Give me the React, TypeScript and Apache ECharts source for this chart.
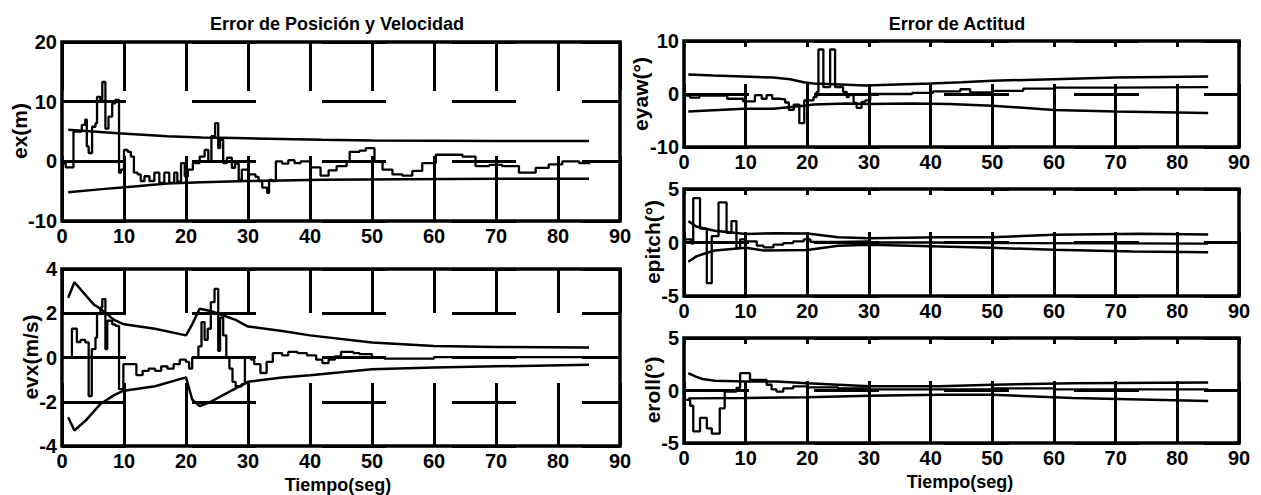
import React, { useEffect, useRef } from "react";
import * as echarts from "echarts";

// ---------- data ----------
const EX_UP_X = [1, 9, 17, 22.5, 28, 42, 50, 60, 70, 85];
const EX_UP_Y = [5.3, 4.7, 4.2, 4.0, 3.9, 3.6, 3.5, 3.45, 3.4, 3.4];
const EX_LO_X = [1, 6, 11.6, 17, 22.5, 30, 42, 55, 70, 85];
const EX_LO_Y = [-5.2, -4.7, -4.2, -3.7, -3.5, -3.3, -3.1, -3.0, -2.9, -2.9];
const EX_SIG_X = [0, 0.6, 1.85, 3.2, 3.75, 4.0, 4.3, 4.85, 5.4, 5.65, 6.2, 6.5, 7.0, 7.5, 8.1, 8.6, 9.2, 9.5, 10.0, 10.6, 11.1, 11.6, 12.2, 12.7, 13.3, 14.1, 14.9, 15.7, 16.5, 17.3, 18.1, 18.6, 19.2, 19.8, 20.3, 21.1, 22.2, 23.0, 23.6, 24.1, 24.7, 25.2, 25.5, 26.0, 26.6, 27.4, 27.9, 28.5, 29.0, 30.1, 31.2, 31.7, 32.3, 33.1, 33.4, 33.9, 34.5, 35.5, 36.5, 37.5, 38.5, 40.1, 41.7, 43.0, 44.3, 45.9, 46.4, 48.0, 49.0, 50.4, 51.7, 53.3, 54.9, 56.5, 58.1, 60.3, 62.4, 64.6, 66.7, 68.9, 71.0, 73.7, 76.4, 78.5, 80.7, 83.4, 85];
const EX_SIG_Y = [-0.3, -1.0, 5.0, 6.1, 7.0, 2.5, 1.4, 5.8, 6.4, 10.8, 10.3, 13.3, 5.5, 7.5, 9.7, 10.3, -1.9, -1.4, 1.9, 1.6, 0.8, -1.9, -2.2, -3.3, -2.5, -3.3, -1.9, -3.6, -1.9, -3.6, -1.9, -3.4, -0.3, -2.5, -1.4, -0.3, 0.8, 1.9, 0, 4.2, 6.4, 2.2, 3.6, -0.3, 0.6, -1.1, -0.4, -3.1, -1.4, -2.2, -2.6, -3.3, -4.4, -5.3, -3.1, -3.3, 0, -0.4, 0.2, -0.3, 0, -1.0, -2.4, -1.5, -0.8, 0, 1.6, 1.8, 2.2, 0, -1.4, -2.2, -2.4, -1.6, -0.3, 1.1, 1.1, 0.8, -0.8, -0.6, -0.8, -1.9, -1.1, -0.5, 0, -0.3, -0.5];

const EVX_UP_X = [1, 2, 5.1, 6.2, 8.4, 10, 15, 20, 21, 22.2, 24, 28, 30, 35.5, 40, 50, 60, 70, 85];
const EVX_UP_Y = [2.7, 3.4, 2.4, 2.2, 1.7, 1.5, 1.3, 1.0, 1.5, 2.2, 2.1, 1.7, 1.4, 1.2, 1.0, 0.68, 0.52, 0.48, 0.45];
const EVX_LO_X = [1, 2, 4, 6.2, 8.4, 10, 15, 20, 21, 22.2, 24, 28, 30, 35.5, 40, 50, 60, 70, 85];
const EVX_LO_Y = [-2.7, -3.3, -2.8, -2.1, -1.7, -1.5, -1.3, -0.9, -1.9, -2.2, -2.0, -1.4, -1.1, -0.9, -0.8, -0.53, -0.45, -0.4, -0.33];
const EVX_SIG_X = [1, 1.6, 2.4, 3.0, 3.75, 4.3, 4.8, 5.4, 5.65, 6.2, 6.5, 7.0, 7.3, 8.1, 8.6, 9.2, 9.9, 11.0, 12.0, 13.0, 14.0, 15.0, 16.0, 17.0, 18.0, 19.0, 20.0, 20.5, 21.0, 22.0, 22.5, 23.0, 23.5, 24.0, 24.6, 25.2, 25.5, 26.0, 26.5, 27.0, 27.5, 28.0, 29.0, 29.5, 30.5, 31.0, 32.0, 33.0, 34.0, 35.5, 36.5, 38.0, 39.5, 41.0, 42.0, 43.0, 44.0, 45.0, 47.0, 48.0, 50.0, 52.0, 60.0, 85];
const EVX_SIG_Y = [0, 1.3, 0.7, 0.8, 0.68, -1.74, 0.38, 0.9, 2.0, 2.26, 2.64, 0.38, 1.66, 1.5, 1.43, -1.43, -0.3, -0.3, -0.8, -0.6, -0.5, -0.6, -0.4, -0.5, -0.3, -0.1, -0.2, -0.5, 0, 0.5, 1.6, 0.8, 1.3, 2.5, 3.1, 0.3, 1.8, 1.0, 0, -0.5, -1.1, -1.3, -1.2, 0, -0.1, -0.3, -0.7, -0.2, 0.2, 0.1, 0.25, 0.2, 0.1, -0.1, -0.25, -0.1, 0.05, 0.25, 0.2, 0.15, 0.0, -0.05, 0.02, 0.02];

const YAW_UP_X = [0.7, 4.8, 9.6, 14.5, 17.2, 19.4, 21, 25.3, 29.6, 34.5, 40, 45, 50, 60, 70, 85];
const YAW_UP_Y = [3.7, 3.5, 3.3, 3.1, 2.8, 2.2, 2.0, 1.8, 1.6, 1.8, 2.0, 2.2, 2.5, 2.8, 3.1, 3.3];
const YAW_LO_X = [0.7, 9.6, 14.5, 19.4, 21, 26.4, 29.6, 37, 43, 50, 60, 70, 85];
const YAW_LO_Y = [-3.3, -2.8, -2.8, -2.2, -2.0, -1.8, -1.9, -1.8, -1.9, -2.2, -3.0, -3.3, -3.6];
const YAW_SIG_X = [0, 1, 2.5, 7, 9.6, 11.5, 12.6, 13.4, 14.3, 15.6, 16.4, 17.0, 17.8, 18.7, 19.5, 21.0, 21.5, 21.8, 22.6, 23.7, 24.5, 25.8, 26.4, 26.7, 27.5, 28.0, 28.8, 29.4, 30.2, 34.5, 37, 40.4, 44.8, 46.4, 50, 55, 60, 70, 85];
const YAW_SIG_Y = [-0.3, -0.7, -0.3, -0.9, -1.4, -0.2, -0.9, -0.2, -0.9, -1.0, -1.6, -3.0, -2.0, -5.5, -1.2, -0.6, 0.4, 8.4, 1.3, 8.4, 1.3, 0.4, -0.6, -0.2, -1.7, -2.6, -1.5, -1.2, 0.0, 0.0, 0.2, 0.5, 0.9, 0.3, 0.6, 1.0, 1.2, 1.3, 1.4];

const PIT_UP_X = [0.7, 2, 3, 5, 10, 15, 20, 25, 30, 41.5, 50, 60, 74, 85];
const PIT_UP_Y = [2.0, 1.5, 1.35, 1.1, 0.8, 0.87, 0.85, 0.5, 0.4, 0.5, 0.5, 0.72, 0.82, 0.75];
const PIT_LO_X = [0.7, 2, 3.5, 5, 10, 13, 20, 25, 30, 41.5, 50, 60, 72.8, 85];
const PIT_LO_Y = [-1.8, -1.3, -1.0, -0.75, -0.5, -0.75, -0.7, -0.3, -0.2, -0.37, -0.5, -0.68, -0.84, -0.9];
const PIT_SIG_X = [0, 1.2, 1.5, 2.6, 3.7, 4.5, 5.6, 6.9, 7.7, 8.5, 9.1, 9.9, 11.8, 12.9, 14.5, 16.1, 17.7, 19.4, 20.5, 25, 30, 40, 50, 85];
const PIT_SIG_Y = [0.3, -0.1, 4.15, 1.3, -3.8, 0.6, 3.75, 0.9, 2.0, -0.5, 0.3, 0.1, -0.3, -0.45, -0.2, -0.05, 0.1, 0.3, 0.05, 0.1, 0.0, -0.05, -0.1, -0.1];

const ROL_UP_X = [0.7, 2, 3, 5, 10, 15, 20, 25, 30, 41.5, 50, 63, 85];
const ROL_UP_Y = [1.65, 1.3, 1.1, 0.93, 0.86, 0.86, 0.7, 0.55, 0.4, 0.4, 0.55, 0.7, 0.77];
const ROL_LO_X = [0.7, 10, 20, 30, 41.5, 50, 63, 85];
const ROL_LO_Y = [-0.75, -0.72, -0.65, -0.5, -0.4, -0.4, -0.72, -1.0];
const ROL_SIG_X = [0, 1.0, 1.5, 2.6, 3.7, 4.5, 5.8, 6.6, 8.5, 9.1, 10.7, 13.4, 14.2, 15.0, 16.1, 17.7, 20, 25, 30, 40, 50, 60, 85];
const ROL_SIG_Y = [-0.9, -1.45, -3.9, -2.6, -3.6, -4.1, -1.7, -0.1, 0.25, 1.65, 1.0, 0.55, 0.1, -0.1, 0.2, 0.4, 0.3, 0.2, 0.1, 0.1, 0.2, 0.1, -0.05];

const X_MIN = 0;
const X_MAX = 90;
const X_STEP = 10;

const TITLE_LEFT = "Error de Posición y Velocidad";
const TITLE_RIGHT = "Error de Actitud";
const X_NAME = "Tiempo(seg)";

// ---------- helpers ----------
const FONT = "'Liberation Sans', Arial, Helvetica, sans-serif";
const pairs = (xs: number[], ys: number[]) => xs.map((x, i) => [x, ys[i]]);

const panels = [
  { left: 62, top: 42, width: 558, height: 179, min: -10, max: 20, interval: 10, vDash: [49, 65, 300], hDash: [64, 66],
    up: pairs(EX_UP_X, EX_UP_Y), lo: pairs(EX_LO_X, EX_LO_Y), sig: pairs(EX_SIG_X, EX_SIG_Y) },
  { left: 62, top: 269, width: 558, height: 177, min: -4, max: 4, interval: 2, vDash: [44, 70, 300], hDash: [64, 66],
    up: pairs(EVX_UP_X, EVX_UP_Y), lo: pairs(EVX_LO_X, EVX_LO_Y), sig: pairs(EVX_SIG_X, EVX_SIG_Y) },
  { left: 684, top: 41, width: 555, height: 106, min: -10, max: 10, interval: 10, vDash: [6, 37, 300], hDash: [65, 65],
    up: pairs(YAW_UP_X, YAW_UP_Y), lo: pairs(YAW_LO_X, YAW_LO_Y), sig: pairs(YAW_SIG_X, YAW_SIG_Y) },
  { left: 684, top: 189, width: 555, height: 107, min: -5, max: 5, interval: 5, vDash: [6, 37, 300], hDash: [65, 65],
    up: pairs(PIT_UP_X, PIT_UP_Y), lo: pairs(PIT_LO_X, PIT_LO_Y), sig: pairs(PIT_SIG_X, PIT_SIG_Y) },
  { left: 684, top: 338, width: 555, height: 105, min: -5, max: 5, interval: 5, vDash: [6, 37, 300], hDash: [65, 65],
    up: pairs(ROL_UP_X, ROL_UP_Y), lo: pairs(ROL_LO_X, ROL_LO_Y), sig: pairs(ROL_SIG_X, ROL_SIG_Y) },
];

const yLabels = [
  { text: "ex(m)", x: 19, y: 131 },
  { text: "evx(m/s)", x: 30, y: 357 },
  { text: "eyaw(°)", x: 640, y: 94 },
  { text: "epitch(°)", x: 652, y: 242 },
  { text: "eroll(°)", x: 652, y: 390 },
];

export default function App() {
  const ref = useRef<HTMLDivElement>(null);
  useEffect(() => {
    if (!ref.current) return;
    const chart = echarts.init(ref.current, null, { renderer: "svg" });
    const labelStyle = { color: "#000", fontSize: 20, fontWeight: "bold" as const, fontFamily: FONT };
    const option: any = {
      animation: false,
      backgroundColor: "#fff",
      grid: panels.map((p) => ({
        left: p.left, top: p.top, width: p.width, height: p.height,
        show: true, borderColor: "#000", borderWidth: 3.5, backgroundColor: "transparent",
      })),
      xAxis: panels.map((p, i) => ({
        type: "value", gridIndex: i, min: X_MIN, max: X_MAX, interval: X_STEP,
        axisLine: { show: false }, axisTick: { show: false },
        axisLabel: { ...labelStyle, margin: 5 },
        splitLine: { show: true, lineStyle: { color: "#000", width: 3, type: p.vDash } },
      })),
      yAxis: panels.map((p, i) => ({
        type: "value", gridIndex: i, min: p.min, max: p.max, interval: p.interval,
        axisLine: { show: false }, axisTick: { show: false },
        axisLabel: { ...labelStyle, margin: 5 },
        splitLine: { show: true, lineStyle: { color: "#000", width: 3, type: p.hDash } },
      })),
      series: panels.flatMap((p, i) => [
        { type: "line", xAxisIndex: i, yAxisIndex: i, data: p.up, symbol: "none", silent: true,
          lineStyle: { color: "#000", width: 2.5 } },
        { type: "line", xAxisIndex: i, yAxisIndex: i, data: p.lo, symbol: "none", silent: true,
          lineStyle: { color: "#000", width: 2.5 } },
        { type: "line", xAxisIndex: i, yAxisIndex: i, data: p.sig, symbol: "none", silent: true, step: "end",
          lineStyle: { color: "#000", width: 2.3 } },
      ]),
      graphic: [
        { type: "text", x: 337, y: 24, style: { text: TITLE_LEFT, fill: "#000", fontSize: 18, fontWeight: "bold", fontFamily: FONT, align: "center", verticalAlign: "middle" } },
        { type: "text", x: 957, y: 24, style: { text: TITLE_RIGHT, fill: "#000", fontSize: 18, fontWeight: "bold", fontFamily: FONT, align: "center", verticalAlign: "middle" } },
        { type: "text", x: 338, y: 485, style: { text: X_NAME, fill: "#000", fontSize: 18, fontWeight: "bold", fontFamily: FONT, align: "center", verticalAlign: "middle" } },
        { type: "text", x: 960, y: 482, style: { text: X_NAME, fill: "#000", fontSize: 18, fontWeight: "bold", fontFamily: FONT, align: "center", verticalAlign: "middle" } },
        ...yLabels.map((l) => ({
          type: "text", x: l.x, y: l.y, rotation: Math.PI / 2,
          style: { text: l.text, fill: "#000", fontSize: 21, fontWeight: "bold", fontFamily: FONT, align: "center", verticalAlign: "middle" },
        })),
      ],
    };
    chart.setOption(option);
    return () => chart.dispose();
  }, []);
  return <div ref={ref} style={{ position: "absolute", left: 0, top: 0, width: 1261, height: 495 }} />;
}
